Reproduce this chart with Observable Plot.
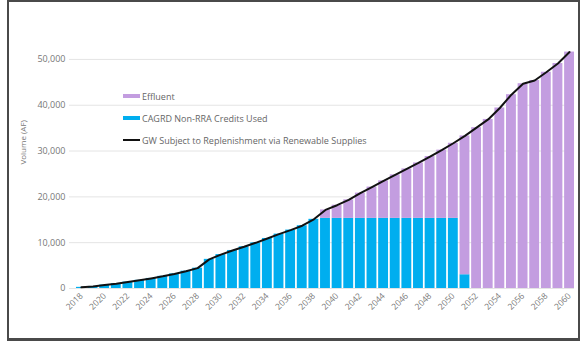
<!DOCTYPE html>
<html>
<head>
<meta charset="utf-8">
<script src="https://cdn.jsdelivr.net/npm/d3@7"></script>
<script src="https://cdn.jsdelivr.net/npm/@observablehq/plot@0.6"></script>
<style>
html, body { margin: 0; padding: 0; background: #fff; }
#wrap { position: relative; width: 584px; height: 341px; overflow: hidden; font-family: "Open Sans", sans-serif; }
#frame { position: absolute; left: 7px; top: 0; width: 573px; height: 341px; box-sizing: border-box; border: 2px solid #4a4a4a; border-bottom-width: 3px; pointer-events: none; }
#chart { position: absolute; left: 0; top: 0; }
#legend { position: absolute; left: 123px; top: 85px; font-size: 9px; color: #666; }
#legend .row { display: flex; align-items: center; height: 22px; white-space: nowrap; }
#legend .sw { width: 17px; height: 4px; margin-right: 2px; }
#legend .ln { width: 17px; height: 2px; margin-right: 2px; background: #111; }
</style>
</head>
<body>
<div id="wrap">
  <div id="chart"></div>
  <div id="legend"></div>
  <div id="frame"></div>
</div>
<script>
const years = [2018, 2019, 2020, 2021, 2022, 2023, 2024, 2025, 2026, 2027,
  2028, 2029, 2030, 2031, 2032, 2033, 2034, 2035, 2036, 2037,
  2038, 2039, 2040, 2041, 2042, 2043, 2044, 2045, 2046, 2047,
  2048, 2049, 2050, 2051, 2052, 2053, 2054, 2055, 2056, 2057,
  2058, 2059, 2060];

// GW Subject to Replenishment via Renewable Supplies (line)
const gwTotal = [250, 450, 740, 1040, 1400, 1780, 2200, 2660, 3180, 3780,
  4440, 6360, 7400, 8300, 9100, 9970, 10920, 11870, 12750, 13700,
  15100, 17150, 18180, 19350, 20820, 22140, 23500, 24800, 26100, 27400,
  28800, 30200, 31700, 33300, 35100, 36900, 39400, 42300, 44700, 45400,
  47200, 49100, 51600];

// CAGRD Non-RRA Credits Used (bars, bottom)
const cagrd = [250, 450, 740, 1040, 1400, 1780, 2200, 2660, 3180, 3780,
  4440, 6360, 7400, 8300, 9100, 9970, 10920, 11870, 12750, 13700,
  15100, 15300, 15300, 15300, 15300, 15300, 15300, 15300, 15300, 15300,
  15300, 15300, 15300, 3000, 0, 0, 0, 0, 0, 0,
  0, 0, 0];

// Effluent (bars, top)
const effluent = [0, 0, 0, 0, 0, 0, 0, 0, 0, 0,
  0, 0, 0, 0, 0, 0, 0, 0, 0, 0,
  0, 1850, 2880, 4050, 5520, 6840, 8200, 9500, 10800, 12100,
  13500, 14900, 16400, 30300, 35100, 36900, 39400, 42300, 44700, 45400,
  47200, 49100, 51600];

const xTicks = [2018, 2020, 2022, 2024, 2026, 2028, 2030, 2032, 2034, 2036,
  2038, 2040, 2042, 2044, 2046, 2048, 2050, 2052, 2054, 2056, 2058, 2060];
const yTicks = [0, 10000, 20000, 30000, 40000, 50000];

const seriesNames = ["CAGRD Non-RRA Credits Used", "Effluent"];
const seriesColors = ["#00aeef", "#c39de0"];
const lineName = "GW Subject to Replenishment via Renewable Supplies";
const yLabel = "Volume (AF)";

const rows = [];
years.forEach((yr, i) => {
  rows.push({year: yr, series: seriesNames[0], value: cagrd[i]});
  rows.push({year: yr, series: seriesNames[1], value: effluent[i]});
});
const lineRows = years.map((yr, i) => ({year: yr, total: gwTotal[i]}));

const chart = Plot.plot({
  width: 584,
  height: 341,
  marginLeft: 69,
  marginRight: 10,
  marginTop: 36,
  marginBottom: 53,
  style: {fontFamily: "'Open Sans', sans-serif", fontSize: "9px", color: "#777", background: "transparent"},
  x: {type: "band", domain: years, paddingInner: 0.15, paddingOuter: 0.3, align: 1, round: false},
  y: {domain: [0, 55000]},
  color: {domain: seriesNames, range: seriesColors},
  marks: [
    Plot.ruleY(yTicks, {stroke: "#e4e4e4", strokeWidth: 1}),
    Plot.barY(rows, {x: "year", y: "value", fill: "series", z: "series", order: seriesNames}),
    Plot.lineY(lineRows, {x: "year", y: "total", stroke: "#111", strokeWidth: 2}),
    Plot.axisY(yTicks, {tickSize: 0, tickPadding: 4, tickFormat: d3.format(","), label: null, fontSize: 9}),
    Plot.axisX(xTicks, {tickSize: 0, tickPadding: 6, tickRotate: -45, tickFormat: d => String(d), label: null, fontSize: 8.5}),
    Plot.text([yLabel], {frameAnchor: "left", rotate: -90, dx: -46, dy: 2, fill: "#777", fontSize: 8})
  ]
});
document.getElementById("chart").appendChild(chart);

const legend = document.getElementById("legend");
const legendItems = [
  {label: seriesNames[1], color: seriesColors[1], type: "sw"},
  {label: seriesNames[0], color: seriesColors[0], type: "sw"},
  {label: lineName, color: "#111", type: "ln"}
];
legendItems.forEach(it => {
  const row = document.createElement("div");
  row.className = "row";
  const s = document.createElement("span");
  s.className = it.type;
  s.style.background = it.color;
  row.appendChild(s);
  const t = document.createElement("span");
  t.textContent = it.label;
  row.appendChild(t);
  legend.appendChild(row);
});
</script>
</body>
</html>
